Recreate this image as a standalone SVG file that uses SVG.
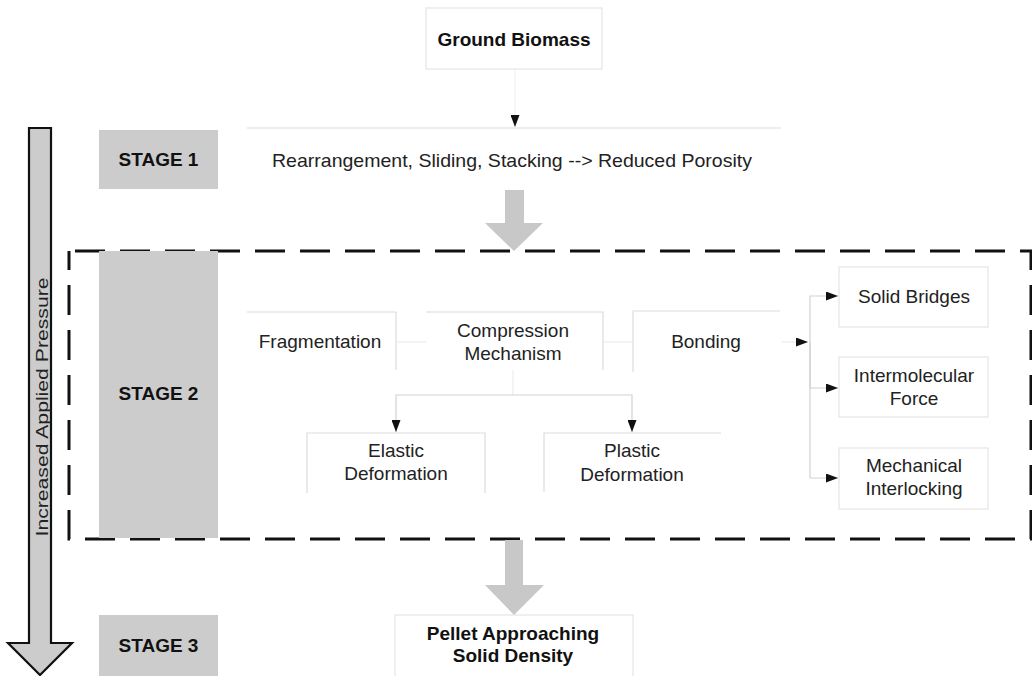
<svg xmlns="http://www.w3.org/2000/svg" width="1032" height="676" viewBox="0 0 1032 676">
<style>
text{font-family:"Liberation Sans",Arial,sans-serif;font-size:19px;fill:#222;text-anchor:middle}
.b{font-weight:bold;fill:#111}
.stage{fill:#cccccc}
.frame{fill:none;stroke:#dcdcdc;stroke-width:1.2}
.box{fill:#fff;stroke:#e4e4e4;stroke-width:1.2}
.con{fill:none;stroke:#d2d2d2;stroke-width:1.2}
.faint{fill:none;stroke:#ececec;stroke-width:1.2}
.big{fill:#c8c8c8}
</style>
<defs>
<marker id="ah" viewBox="0 0 12 9" refX="12" refY="4.5" markerWidth="12" markerHeight="9" markerUnits="userSpaceOnUse" orient="auto">
<path d="M0,0 L12,4.5 L0,9 z" fill="#111"/>
</marker>
</defs>
<rect width="1032" height="676" fill="#fff"/>

<g id="pressure-arrow">
<polygon points="29,128 51,128 51,643 72,643 40,675 8,643 29,643" fill="#cccccc" stroke="#111" stroke-width="2.2" stroke-linejoin="miter"/>
<text x="48" y="407" transform="rotate(-90 48 407)" style="font-size:16px" textLength="259" lengthAdjust="spacingAndGlyphs">Increased Applied Pressure</text>
</g>

<g id="stage1-label">
<rect class="stage" x="99" y="130" width="119" height="59"/>
<text class="b" x="158.5" y="166">STAGE 1</text>
</g>

<g id="stage2-frame">
<rect x="69" y="251" width="962" height="288" fill="none" stroke="#111" stroke-width="3" stroke-dasharray="30 15" stroke-dashoffset="-6"/>
</g>

<g id="stage2-label">
<rect class="stage" x="99" y="251" width="119" height="287"/>
<text class="b" x="158.5" y="400">STAGE 2</text>
</g>

<g id="stage3-label">
<rect class="stage" x="99" y="615" width="119" height="61"/>
<text class="b" x="158.5" y="652">STAGE 3</text>
</g>

<g id="ground-biomass">
<rect class="box" x="426" y="8" width="176" height="61"/>
<text class="b" x="514" y="46">Ground Biomass</text>
</g>

<g id="stage1-process">
<line class="frame" x1="247" y1="128" x2="781" y2="128"/>
<text x="512" y="167" textLength="480" lengthAdjust="spacingAndGlyphs">Rearrangement, Sliding, Stacking --&gt; Reduced Porosity</text>
</g>

<g id="fragmentation">
<path class="frame" d="M247,312 H396 V370"/>
<text x="320" y="348">Fragmentation</text>
</g>

<g id="compression">
<path class="frame" d="M426,312 H603 V370"/>
<text x="513" y="337">Compression</text>
<text x="513" y="360">Mechanism</text>
</g>

<g id="bonding">
<path class="frame" d="M780,311 H633 V372"/>
<text x="706" y="348">Bonding</text>
</g>

<g id="elastic">
<path class="frame" d="M307,493 V433 H485 V493"/>
<text x="396" y="457">Elastic</text>
<text x="396" y="480">Deformation</text>
</g>

<g id="plastic">
<path class="frame" d="M544,492 V433 H721"/>
<text x="632" y="457">Plastic</text>
<text x="632" y="481">Deformation</text>
</g>

<g id="solid-bridges">
<rect class="box" x="839" y="267" width="149" height="60"/>
<text x="914" y="303">Solid Bridges</text>
</g>

<g id="intermolecular">
<rect class="box" x="839" y="357" width="149" height="60"/>
<text x="914" y="382">Intermolecular</text>
<text x="914" y="405">Force</text>
</g>

<g id="mechanical">
<rect class="box" x="839" y="448" width="149" height="61"/>
<text x="914" y="472">Mechanical</text>
<text x="914" y="495">Interlocking</text>
</g>

<g id="pellet">
<rect class="box" x="395" y="615" width="238" height="70"/>
<text class="b" x="513" y="640">Pellet Approaching</text>
<text class="b" x="513" y="662">Solid Density</text>
</g>

<g id="connectors">
<path class="faint" d="M515,70 V127" marker-end="url(#ah)" style="stroke:#f2f2f2"/>
<polygon class="big" points="505,190 524,190 524,223 543,223 514,251 485,223 505,223"/>
<polygon class="big" points="505,540 523,540 523,585 544,585 514,615 485,585 505,585"/>
<line class="faint" x1="396" y1="342" x2="426" y2="342"/>
<line class="faint" x1="603" y1="342" x2="633" y2="342"/>
<path class="faint" d="M513,370 V395"/>
<path class="con" d="M513,395 H396 V432" marker-end="url(#ah)"/>
<path class="con" d="M513,395 H632 V432" marker-end="url(#ah)"/>
<path class="faint" d="M782,342 H808" marker-end="url(#ah)"/>
<path class="con" d="M810,342 V296 H838" marker-end="url(#ah)"/>
<path class="con" d="M810,342 V388 H838" marker-end="url(#ah)"/>
<path class="con" d="M810,342 V478 H838" marker-end="url(#ah)"/>
</g>
</svg>
